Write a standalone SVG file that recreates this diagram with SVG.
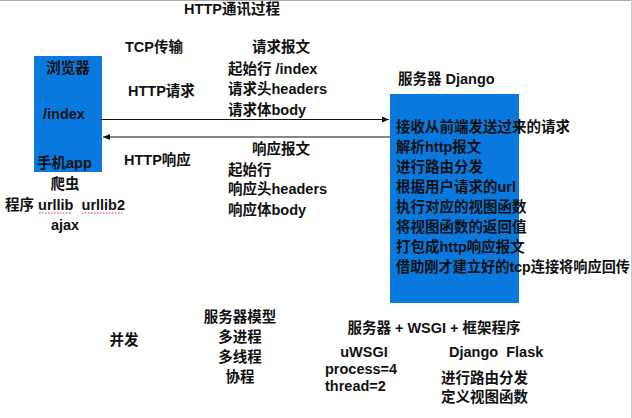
<svg xmlns="http://www.w3.org/2000/svg" width="632" height="418" viewBox="0 0 632 418">
<style>
text{font-family:"Liberation Sans","Noto Sans CJK SC",sans-serif;font-weight:bold;font-size:14.5px;fill:#111}
.box{fill:#0a79de}
.line{stroke:#111;stroke-width:1.2;fill:none}
.m{text-anchor:middle}
.sq{stroke:#d33;stroke-width:1;stroke-dasharray:1.5 1.5}
</style>
<defs>
<marker id="ah" markerWidth="8" markerHeight="8" refX="7" refY="4" orient="auto" markerUnits="userSpaceOnUse">
<path d="M0,1 L7,4 L0,7 Z" fill="#111"/>
</marker>
</defs>
<rect x="0" y="0" width="632" height="418" fill="#fff"/>
<line x1="0" y1="0.5" x2="632" y2="0.5" stroke="#aaa"/>
<line x1="631.5" y1="0" x2="631.5" y2="418" stroke="#ccc"/>
<text x="232" y="14" class="m">HTTP通讯过程</text>
<g id="browser">
<rect class="box" x="34" y="56" width="68" height="116"/>
<text x="68" y="73" class="m">浏览器</text>
<text x="43" y="119">/index</text>
<text x="37" y="168">手机app</text>
<text x="65" y="189" class="m">爬虫</text>
<text x="5" y="210" xml:space="preserve">程序 urllib  urllib2</text>
<line class="sq" x1="39" y1="213" x2="72" y2="213"/>
<line class="sq" x1="82" y1="213" x2="124" y2="213"/>
<text x="65" y="230" class="m">ajax</text>
</g>
<g id="server">
<rect class="box" x="390" y="94" width="129" height="209"/>
<text x="398" y="84">服务器 Django</text>
<text x="396" y="132">接收从前端发送过来的请求</text>
<text x="396" y="152">解析http报文</text>
<text x="396" y="172">进行路由分发</text>
<text x="396" y="192">根据用户请求的url</text>
<text x="396" y="212">执行对应的视图函数</text>
<text x="396" y="232">将视图函数的返回值</text>
<text x="396" y="252">打包成http响应报文</text>
<text x="396" y="272" textLength="234" lengthAdjust="spacingAndGlyphs">借助刚才建立好的tcp连接将响应回传</text>
</g>
<g id="connectors">
<line class="line" x1="100" y1="119.5" x2="389" y2="119.5" marker-end="url(#ah)"/>
<line class="line" x1="390" y1="137" x2="103" y2="137" marker-end="url(#ah)"/>
</g>
<g id="labels">
<text x="125" y="52">TCP传输</text>
<text x="128" y="96">HTTP请求</text>
<text x="124" y="165">HTTP响应</text>
<text x="252" y="52">请求报文</text>
<text x="228" y="74">起始行 /index</text>
<text x="228" y="94">请求头headers</text>
<text x="228" y="115">请求体body</text>
<text x="252" y="154">响应报文</text>
<text x="228" y="175">起始行</text>
<text x="228" y="194">响应头headers</text>
<text x="228" y="215">响应体body</text>
</g>
<g id="bottom">
<text x="124" y="345" class="m">并发</text>
<text x="240" y="322" class="m">服务器模型</text>
<text x="240" y="342" class="m">多进程</text>
<text x="240" y="362" class="m">多线程</text>
<text x="240" y="382" class="m">协程</text>
<text x="434" y="333" class="m">服务器 + WSGI + 框架程序</text>
<text x="364" y="357" class="m">uWSGI</text>
<text x="325" y="374">process=4</text>
<text x="325" y="391">thread=2</text>
<text x="449" y="357" xml:space="preserve">Django  Flask</text>
<text x="441" y="383">进行路由分发</text>
<text x="441" y="402">定义视图函数</text>
</g>
</svg>
